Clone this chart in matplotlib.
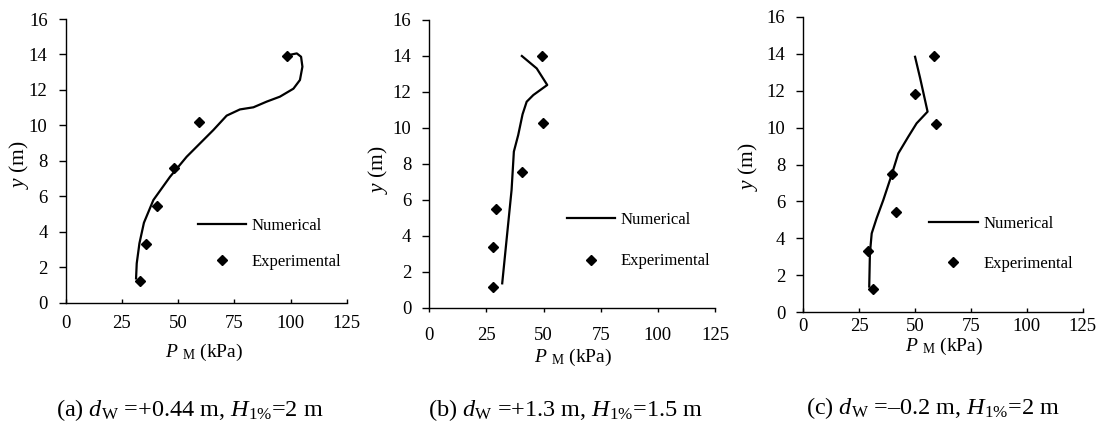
import numpy as np
import matplotlib
matplotlib.use("Agg")
from matplotlib import pyplot as plt

plt.rcParams['font.family'] = ['Liberation Serif', 'DejaVu Serif']
plt.rcParams['mathtext.fontset'] = 'custom'
plt.rcParams['mathtext.rm'] = 'Liberation Serif'
plt.rcParams['mathtext.it'] = 'Liberation Serif:italic'

# (a) d_W = +0.44 m
num_a_p = [31.3, 31.6, 32.8, 34.8, 39.0, 46.4, 53.8, 65.7, 71.6, 77.5, 83.5, 89.4, 95.3, 101.3, 104.2, 105.3, 104.7, 102.8, 100.5]
num_a_y = [1.37, 2.22, 3.35, 4.51, 5.79, 7.10, 8.23, 9.74, 10.55, 10.90, 11.02, 11.34, 11.62, 12.07, 12.56, 13.31, 13.87, 14.06, 14.00]
exp_a_p = [33.1, 35.7, 40.5, 48.3, 59.3, 98.6]
exp_a_y = [1.22, 3.33, 5.45, 7.58, 10.21, 13.91]

# (b) d_W = +1.3 m
num_b_p = [31.9, 33.8, 36.0, 37.0, 38.9, 40.8, 42.6, 45.5, 51.6, 47.0, 40.5]
num_b_y = [1.37, 3.78, 6.56, 8.69, 9.61, 10.76, 11.46, 11.83, 12.39, 13.31, 14.00]
exp_b_p = [27.9, 27.9, 29.3, 40.7, 49.9, 49.3]
exp_b_y = [1.19, 3.39, 5.48, 7.57, 10.26, 14.00]

# (c) d_W = -0.2 m
num_c_p = [29.5, 29.8, 30.6, 32.8, 35.8, 39.5, 42.5, 47.0, 50.7, 55.6, 52.3, 50.0]
num_c_y = [1.39, 3.19, 4.27, 5.09, 6.08, 7.43, 8.60, 9.51, 10.23, 10.86, 12.66, 13.83]
exp_c_p = [31.0, 29.1, 41.3, 39.5, 50.0, 59.5, 58.6]
exp_c_y = [1.28, 3.32, 5.43, 7.50, 11.80, 10.21, 13.87]

x_ticks = [0, 25, 50, 75, 100, 125]
y_ticks = [0, 2, 4, 6, 8, 10, 12, 14, 16]

captions = [r"(a) $d_\mathrm{W}$ =+0.44 m, $H_{1\%}$=2 m",
            r"(b) $d_\mathrm{W}$ =+1.3 m, $H_{1\%}$=1.5 m",
            r"(c) $d_\mathrm{W}$ =–0.2 m, $H_{1\%}$=2 m"]

W, H = 1099, 421
fig = plt.figure(figsize=(W / 100, H / 100), dpi=100)

def px(x, y):
    return x / W, 1 - y / H

# axes boxes in pixels: left, right, bottom(y0), top(y16)
boxes = [(65.7, 346.7, 302.7, 19.0), (429.3, 715.0, 308.0, 20.0), (803.3, 1082.7, 312.3, 16.7)]
xpads = [9, 11, 4]
xdirs = ['in', 'out', 'in']
legend_pos = [(0.47, 0.30, 1.2), (0.481, 0.335, 1.55), (0.451, 0.325, 1.4)]
ylabel_pos = [(19, 165), (378, 170), (748, 167)]
xlabel_pos = [(204, 352), (573, 357), (944, 346)]
caption_pos = [(190, 410), (565, 410), (933, 408)]

data = [(num_a_p, num_a_y, exp_a_p, exp_a_y),
        (num_b_p, num_b_y, exp_b_p, exp_b_y),
        (num_c_p, num_c_y, exp_c_p, exp_c_y)]

for i in range(3):
    l, r, b, t = boxes[i]
    ax = fig.add_axes([l / W, 1 - b / H, (r - l) / W, (b - t) / H])
    nump, numy, expp, expy = data[i]
    ax.plot(nump, numy, color='black', linewidth=1.6, label='Numerical')
    ax.plot(expp, expy, 'D', color='black', markersize=5.5, linestyle='none', label='Experimental')
    ax.set_xlim(0, 125)
    ax.set_ylim(0, 16)
    ax.set_xticks(x_ticks)
    ax.set_yticks(y_ticks)
    ax.spines['top'].set_visible(False)
    ax.spines['right'].set_visible(False)
    ax.spines['left'].set_linewidth(1.0)
    ax.spines['bottom'].set_linewidth(1.0)
    ax.tick_params(axis='y', direction='out', length=5, width=1, pad=8, labelsize=13.5)
    ax.tick_params(axis='x', direction=xdirs[i], length=3, width=1, pad=xpads[i], labelsize=13.5)
    lx, ly, sp = legend_pos[i]
    ax.legend(loc='upper left', bbox_to_anchor=(lx, ly), frameon=False, fontsize=12,
              handlelength=2.9, handletextpad=0.35, borderpad=0, borderaxespad=0,
              labelspacing=sp, numpoints=1)

    fig.text(*px(*ylabel_pos[i]), r"$y$ (m)", rotation=90, ha='center', va='center', fontsize=15.5)
    fig.text(*px(*xlabel_pos[i]), r"$P$ $_\mathrm{M}$ (kPa)", ha='center', va='center', fontsize=14)
    fig.text(*px(*caption_pos[i]), captions[i], ha='center', va='center', fontsize=17.5)

fig.savefig('out.png', dpi=100)
